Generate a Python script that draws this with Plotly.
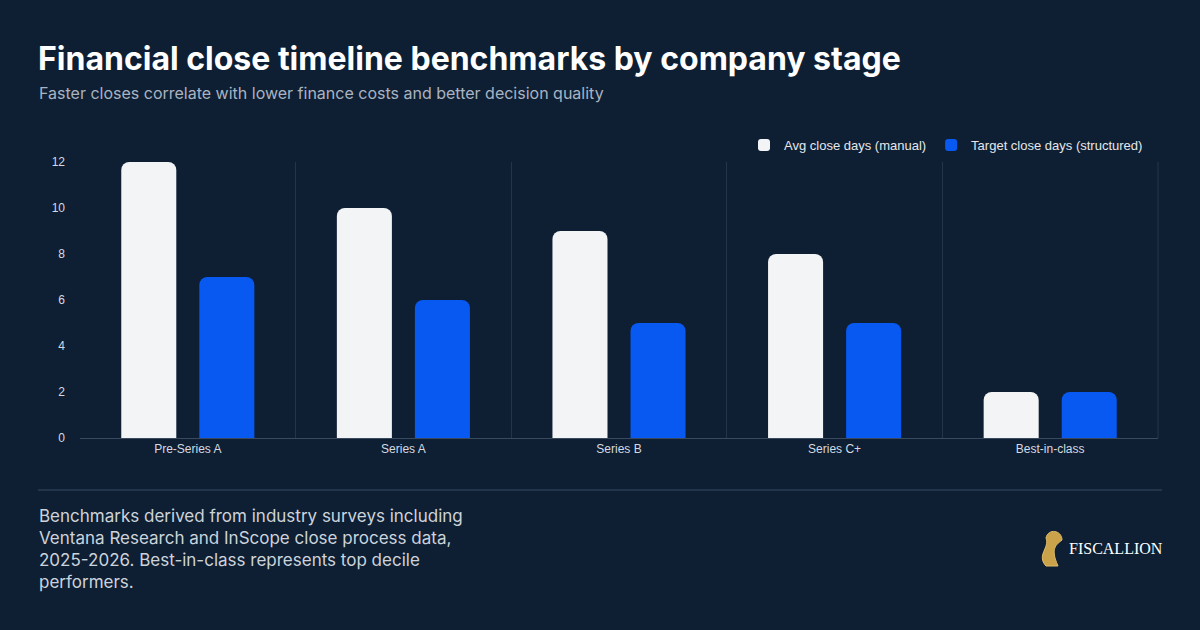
import plotly.graph_objects as go

categories = ["Pre-Series A", "Series A", "Series B", "Series C+", "Best-in-class"]
avg_manual = [12, 10, 9, 8, 2]
target_structured = [7, 6, 5, 5, 2]
series_names = ["Avg close days (manual)", "Target close days (structured)"]
y_ticks = [0, 2, 4, 6, 8, 10, 12]

BG = "#0e1f33"
W, H = 1200, 630
L, R, T, B = 80, 1158, 162, 438


def px(x):
    return (x - L) / (R - L)


def py(y):
    return (B - y) / (B - T)


fig = go.Figure()
fig.add_trace(go.Bar(x=categories, y=avg_manual, name=series_names[0],
                     marker=dict(color="#f3f4f6", line=dict(width=0))))
fig.add_trace(go.Bar(x=categories, y=target_structured, name=series_names[1],
                     marker=dict(color="#0759f2", line=dict(width=0))))

fig.update_layout(
    width=W, height=H,
    paper_bgcolor=BG, plot_bgcolor=BG,
    margin=dict(l=L, r=W - R, t=T, b=H - B),
    barmode="group", bargap=0.276, bargroupgap=0.295,
    barcornerradius=8,
    font=dict(family="Liberation Sans, Arial, sans-serif", color="#d5dae1", size=12),
    showlegend=True,
    legend=dict(orientation="h", x=px(1148), xanchor="right", y=py(145), yanchor="middle",
                font=dict(size=13, color="#e5e7eb", family="Liberation Sans, Arial, sans-serif"),
                bgcolor="rgba(0,0,0,0)", itemwidth=30, traceorder="normal"),
    xaxis=dict(showgrid=True, gridcolor="#24354a", gridwidth=1, tickson="boundaries",
               ticks="", showline=True, linecolor="#3a4a5e", linewidth=1,
               tickfont=dict(size=12, color="#d5dae1"), mirror=False, zeroline=False),
    yaxis=dict(range=[0, 12], tickvals=y_ticks, showgrid=False, zeroline=False,
               showline=False, ticks="", ticklabelstandoff=14,
               tickfont=dict(size=12, color="#d5dae1")),
)

# Right boundary line
fig.add_shape(type="line", xref="paper", yref="paper", x0=1, x1=1, y0=0, y1=1,
              line=dict(color="#24354a", width=1))

# Title & subtitle
fig.add_annotation(xref="paper", yref="paper", x=px(36), y=py(58), xanchor="left", yanchor="middle",
                   text="<b>Financial close timeline benchmarks by company stage</b>", showarrow=False,
                   font=dict(family="Inter, sans-serif", size=32, color="#ffffff"))
fig.add_annotation(xref="paper", yref="paper", x=px(37), y=py(93), xanchor="left", yanchor="middle",
                   text="Faster closes correlate with lower finance costs and better decision quality",
                   showarrow=False, font=dict(family="Inter, sans-serif", size=16, color="#a9b3c1"))

# Separator
fig.add_shape(type="line", xref="paper", yref="paper", x0=px(38), x1=px(1162), y0=py(490), y1=py(490),
              line=dict(color="#22344a", width=2))

# Footnote
fig.add_annotation(xref="paper", yref="paper", x=px(37), y=py(504), xanchor="left", yanchor="top",
                   align="left", showarrow=False,
                   text="Benchmarks derived from industry surveys including<br>Ventana Research and InScope close process data,<br>2025-2026. Best-in-class represents top decile<br>performers.",
                   font=dict(family="Inter, sans-serif", size=17, color="#cdd3db"))

# Logo icon (gold) + wordmark
icon = "M {x0},{y0} C {x1},{y1} {x2},{y2} {x3},{y3} C {x4},{y4} {x5},{y5} {x6},{y6} C {x7},{y7} {x8},{y8} {x9},{y9} Z"
pts = [(1046, 566), (1036, 555), (1050, 548), (1046, 538), (1048, 528), (1062, 530), (1062, 540),
       (1056, 545), (1050, 548), (1058, 566)]
d = {}
for i, (a, b) in enumerate(pts):
    d[f"x{i}"] = px(a)
    d[f"y{i}"] = py(b)
fig.add_shape(type="path", xref="paper", yref="paper", path=icon.format(**d),
              fillcolor="#c9a24a", line=dict(color="#e0bd6a", width=1))
fig.add_annotation(xref="paper", yref="paper", x=px(1067), y=py(548), xanchor="left", yanchor="middle",
                   text="FISCALLION", showarrow=False,
                   font=dict(family="Liberation Serif, DejaVu Serif, serif", size=16, color="#ffffff"))

fig.write_html("out.html")
